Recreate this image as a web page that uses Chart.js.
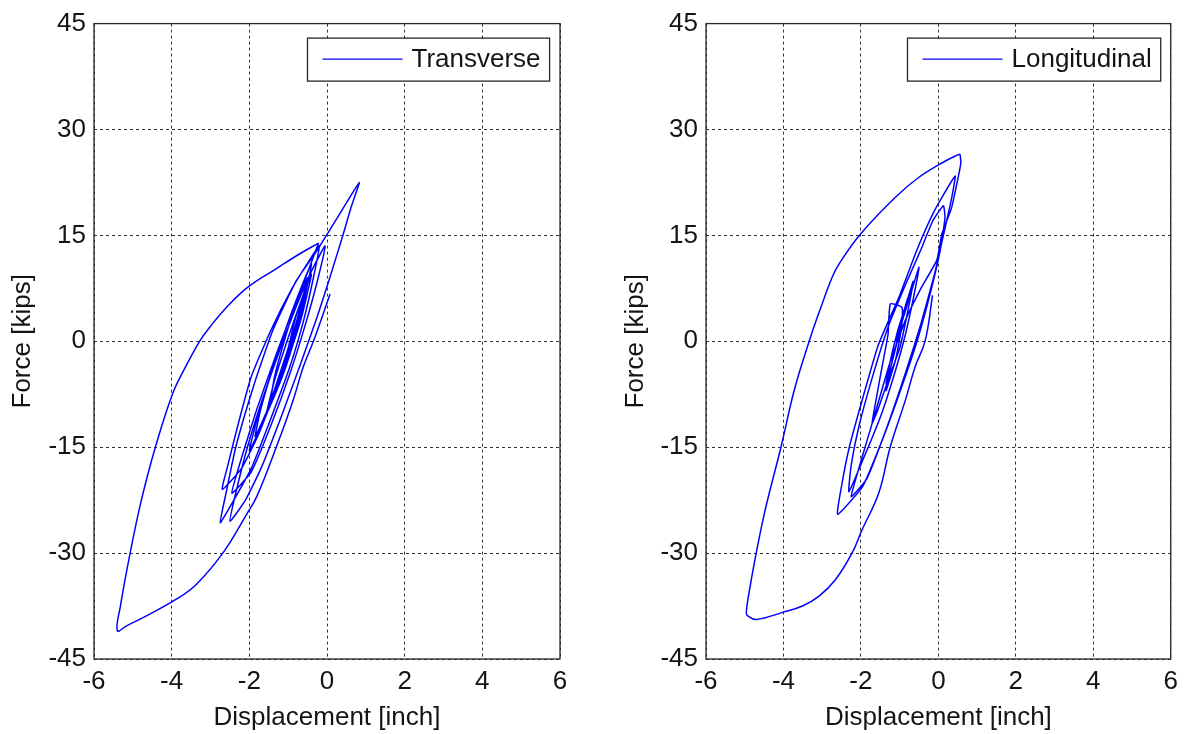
<!DOCTYPE html>
<html>
<head>
<meta charset="utf-8">
<title>Force vs displacement</title>
<script src="https://cdn.jsdelivr.net/npm/chart.js@4.4.0/dist/chart.umd.min.js"></script>
<style>
  body { margin: 0; background: #fff; }
  canvas { position: absolute; top: 0; }
  #transChart { left: 0; }
  #longChart { left: 592px; }
</style>
</head>
<body>
<canvas id="transChart" width="592" height="734"></canvas>
<canvas id="longChart" width="593" height="734"></canvas>
<script>
// --- Data ---
const xTicks = [-6, -4, -2, 0, 2, 4, 6];
const yTicks = [-45, -30, -15, 0, 15, 30, 45];

// Transverse, inner cycles: displacement [inch] / force [kips]
const transCycleDisp = [
  -1.0, -0.8, -0.6,
  -0.85, -1.15, -1.45,
  -1.35, -1.05, -0.75, -0.5,
  -0.7, -1.0, -1.4, -1.85,
  -1.7, -1.35, -0.95, -0.6, -0.4,
  -0.6, -0.9, -1.3, -1.75, -2.2, -2.7,
  -2.55, -2.3, -1.95, -1.45, -0.9, -0.45, -0.2,
  -0.35, -0.6, -0.95, -1.45, -1.95, -2.4, -2.75,
  -2.6, -2.35, -1.9, -1.4, -0.8, -0.3, 0.03, 0.4, 0.83,
  0.62, 0.42, 0.1, -0.25, -0.7, -1.2, -1.7, -2.1, -2.5,
  -2.35, -2.05, -1.65, -1.2, -0.75, -0.35, -0.05,
  -0.25, -0.55, -0.95, -1.45, -1.95, -2.45,
  -2.2, -1.8, -1.35, -0.9, -0.55,
  -0.8, -1.15, -1.55,
  -1.35, -1.0, -0.65, -0.4,
  -0.65, -1.0, -1.3,
  -1.05, -0.75, -0.55,
  -0.8, -1.15, -1.65, -2.0,
  -1.75, -1.35, -0.95, -0.55, -0.22
];
const transCycleForce = [
  -1, 3.5, 6.5,
  1.5, -4, -8.5,
  -5, 1, 6, 9,
  4, -2, -8, -13.5,
  -9.5, -3, 3.5, 8.5, 11,
  5.5, 0, -6.5, -13, -18, -21,
  -17.5, -12, -5, 1.5, 7.5, 11.5, 13.5,
  9, 3, -3.5, -11, -18, -22.5, -25.7,
  -21.5, -15, -6.5, 1.5, 8.5, 12.5, 15.4, 18.7, 22.5,
  19, 15.2, 9.5, 3.5, -3.5, -11, -18, -22.5, -25.5,
  -21.5, -15, -8, -1, 5.5, 10.5, 13.5,
  8.5, 2.5, -4.5, -12, -18.5, -21.5,
  -16.5, -9.5, -2.5, 4, 8,
  2.5, -3.5, -10,
  -5.5, 0.5, 6, 9.5,
  3.5, -2.5, -7,
  -2, 3, 6.5,
  1, -5, -11.5, -15.5,
  -10, -3, 3.5, 9, 13.9
];
// Transverse, final large excursion
const transLoopDisp = [
  -0.22, -0.7, -1.3, -2.03, -2.59, -3.02, -3.27, -3.66, -3.98, -4.42, -4.78,
  -5.07, -5.32, -5.40, -5.16, -4.65, -3.87, -3.36, -2.67, -2.07,
  -1.81, -1.30, -0.87, -0.61, -0.35, 0.08
];
const transLoopForce = [
  13.9, 12.4, 10.3, 7.7, 4.8, 2.0, 0.1, -3.8, -7.5, -15, -22.5,
  -30, -37.5, -41.0, -40.3, -38.9, -36.5, -34.4, -29.9, -24.5,
  -22, -14.9, -8.3, -3.6, 0, 6.7
];

// Longitudinal, inner cycles
const longCycleDisp = [
  -1.1, -0.95, -0.8,
  -0.95, -1.15, -1.35,
  -1.25, -1.05, -0.85, -0.65,
  -0.8, -1.0, -1.3, -1.55, -1.71,
  -1.6, -1.45, -1.3, -1.24, -0.94,
  -0.95, -1.1, -1.35,
  -1.2, -0.95, -0.7, -0.5,
  -0.65, -0.85, -1.1, -1.45, -1.85, -2.31,
  -2.25, -2.05, -1.7, -1.3, -0.85, -0.45, -0.15, 0.13, 0.17,
  0.05, -0.2, -0.55, -0.95, -1.45, -1.95, -2.6,
  -2.5, -2.3, -1.95, -1.55, -1.0, -0.55, -0.1, 0.43,
  0.35, 0.15, -0.1, -0.45, -0.85, -1.35, -1.85, -2.25,
  -2.0, -1.65, -1.25, -0.85, -0.45, -0.04, 0.09, 0.34, 0.58, 0.56
];
const longCycleForce = [
  0, 3, 6,
  2.5, -2, -6,
  -3, 1.5, 5, 8.5,
  4, -1, -5.5, -9.5, -11.6,
  -8, -3.5, 1, 5.3, 4.8,
  2, -2.5, -7,
  -3, 2.5, 7, 10.5,
  6, 1, -4, -10, -15.5, -21.3,
  -17.5, -12, -5, 2, 8, 13, 17, 19.2, 17.5,
  13, 7, 0, -6.5, -14, -20.5, -24.5,
  -20.5, -15, -8, -0.5, 6.5, 13, 18.5, 23.4,
  20.5, 15.5, 9.5, 2.5, -4.5, -12.5, -19.5, -22,
  -17, -10.5, -3, 3, 7.5, 11.5, 15.2, 18.9, 25.2, 26.5
];
// Longitudinal, final large excursion
const longLoopDisp = [
  0.56, 0.5, 0.17, -0.51, -1.11, -2.01, -2.56, -2.74, -3.08, -3.33, -3.72,
  -4.06, -4.32, -4.51, -4.70, -4.86, -4.96, -4.92, -4.70, -4.02, -3.51,
  -3.08, -2.65, -2.22, -1.97, -1.54, -1.24, -0.85, -0.6, -0.34, -0.15
];
const longLoopForce = [
  26.5, 26.4, 25.5, 23.2, 20.4, 15.2, 11.0, 9.1, 4.1, 0.1, -6.9,
  -14.9, -20.5, -24.8, -29.9, -34.7, -38.4, -38.9, -39.4, -38.4, -37.5,
  -36.1, -33.7, -29.9, -26.7, -21.5, -14.9, -8.3, -3.6, 0.1, 6.5
];

// --- Styling ---
const fontFamily = '"Liberation Sans", Arial, sans-serif';
const fontSize = 26;
const textColor = '#141414';
const gridColor = '#333333';
const lineColor = '#0000ff';

// Plot frame + legend box drawn inside the axes (MATLAB style)
const frameAndLegend = {
  id: 'frameAndLegend',
  afterDraw(chart) {
    const { ctx, chartArea: a } = chart;
    const ds = chart.data.datasets[0];
    ctx.save();
    ctx.strokeStyle = '#262626';
    ctx.lineWidth = 1.3;
    ctx.strokeRect(a.left, a.top, a.right - a.left, a.bottom - a.top);

    ctx.font = fontSize + 'px ' + fontFamily;
    const tw = ctx.measureText(ds.label).width;
    const boxW = 15 + 80 + 9 + tw + 9;
    const boxH = 43;
    const bx = Math.round(a.right - 11 - boxW) + 0.5;
    const by = a.top + 14.5;
    ctx.fillStyle = '#fff';
    ctx.fillRect(bx, by, boxW, boxH);
    ctx.strokeStyle = '#262626';
    ctx.strokeRect(bx, by, boxW, boxH);

    ctx.strokeStyle = ds.borderColor;
    ctx.lineWidth = 1.3;
    ctx.beginPath();
    ctx.moveTo(bx + 15, by + 21);
    ctx.lineTo(bx + 95, by + 21);
    ctx.stroke();

    ctx.fillStyle = textColor;
    ctx.textAlign = 'left';
    ctx.textBaseline = 'middle';
    ctx.fillText(ds.label, bx + 104, by + 22);
    ctx.restore();
  }
};

function toPoints(xs, ys) {
  return xs.map((x, i) => ({ x: x, y: ys[i] }));
}

function makeChart(canvasId, label, cycles, loop, plotLeft, plotRight, yTitlePad) {
  const canvas = document.getElementById(canvasId);
  const tickFont = { family: fontFamily, size: fontSize };
  const titleFont = { family: fontFamily, size: fontSize, lineHeight: 1.2 };
  const lineStyle = {
    showLine: true,
    borderColor: lineColor,
    borderWidth: 1.5,
    pointRadius: 0,
    pointHoverRadius: 0,
    fill: false
  };

  return new Chart(canvas, {
    type: 'scatter',
    data: {
      datasets: [
        Object.assign({ label: label, data: cycles, tension: 0.15 }, lineStyle),
        Object.assign({ label: label, data: loop, tension: 0.4 }, lineStyle)
      ]
    },
    options: {
      responsive: false,
      animation: false,
      layout: { padding: { left: 0, top: 20, right: canvas.width - plotRight, bottom: 0 } },
      plugins: {
        legend: { display: false },
        tooltip: { enabled: false }
      },
      scales: {
        x: {
          type: 'linear',
          min: -6,
          max: 6,
          afterFit: (s) => { s.height = 75; },
          afterBuildTicks: (s) => { s.ticks = xTicks.map(v => ({ value: v })); },
          ticks: { padding: 7, color: textColor, font: tickFont, maxRotation: 0, callback: (v) => String(v) },
          grid: { color: gridColor, lineWidth: 1, drawTicks: false },
          border: { display: false, dash: [3, 3] },
          title: {
            display: true,
            text: 'Displacement [inch]',
            color: textColor,
            font: titleFont,
            padding: { top: 0, bottom: 1 }
          }
        },
        y: {
          type: 'linear',
          min: -45,
          max: 45,
          afterFit: (s) => { s.width = plotLeft; },
          afterBuildTicks: (s) => { s.ticks = yTicks.map(v => ({ value: v })); },
          ticks: { padding: 8, color: textColor, font: tickFont, callback: (v) => String(v) },
          grid: { color: gridColor, lineWidth: 1, drawTicks: false },
          border: { display: false, dash: [3, 3] },
          title: {
            display: true,
            text: 'Force [kips]',
            color: textColor,
            font: titleFont,
            padding: { top: yTitlePad, bottom: 0 }
          }
        }
      }
    },
    plugins: [frameAndLegend]
  });
}

makeChart('transChart', 'Transverse',
  toPoints(transCycleDisp, transCycleForce), toPoints(transLoopDisp, transLoopForce), 94, 560, 7);
makeChart('longChart', 'Longitudinal',
  toPoints(longCycleDisp, longCycleForce), toPoints(longLoopDisp, longLoopForce), 114, 582, 28);
</script>
</body>
</html>
